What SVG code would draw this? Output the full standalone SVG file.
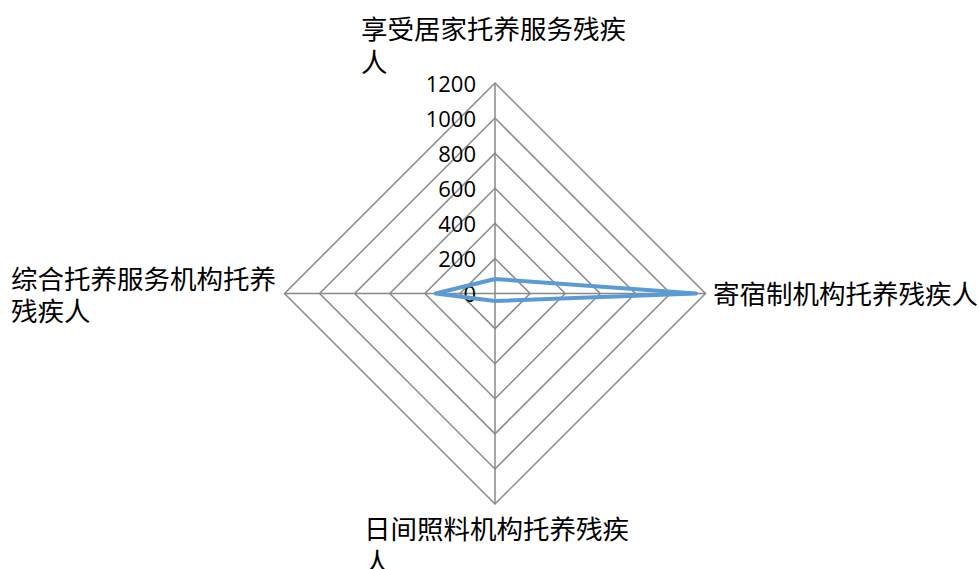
<svg xmlns="http://www.w3.org/2000/svg" width="979" height="569" viewBox="0 0 979 569">
<style>
.grid{fill:none;stroke:#898989;stroke-width:1.5}
.tick{font-family:"Open Sans","Liberation Sans",sans-serif;font-size:22px;fill:#000;text-anchor:end}
.cat{font-family:"Noto Sans CJK SC","Noto Sans CJK JP",sans-serif;font-size:26.5px;fill:#000}
.series{fill:none;stroke:#5B9BD5;stroke-width:4;stroke-linejoin:round}
</style>
<rect width="979" height="569" fill="#fff"/>
<g id="grid">
<polygon class="grid" points="495,258.42 530.08,293.5 495,328.58 459.92,293.5"/>
<polygon class="grid" points="495,223.33 565.17,293.5 495,363.67 424.83,293.5"/>
<polygon class="grid" points="495,188.25 600.25,293.5 495,398.75 389.75,293.5"/>
<polygon class="grid" points="495,153.17 635.33,293.5 495,433.83 354.67,293.5"/>
<polygon class="grid" points="495,118.08 670.42,293.5 495,468.92 319.58,293.5"/>
<polygon class="grid" points="495,83 705.5,293.5 495,504 284.5,293.5"/>
<line class="grid" x1="495" y1="83" x2="495" y2="504"/>
<line class="grid" x1="284.5" y1="293.5" x2="705.5" y2="293.5"/>
</g>
<g id="ticks">
<text class="tick" x="476" y="301.5">0</text>
<text class="tick" x="476" y="266.5">200</text>
<text class="tick" x="476" y="231.5">400</text>
<text class="tick" x="476" y="196.5">600</text>
<text class="tick" x="476" y="161.5">800</text>
<text class="tick" x="476" y="126.5">1000</text>
<text class="tick" x="476" y="91.5">1200</text>
</g>
<g id="connectors">
<polygon id="series1" class="series" points="495,279 696,293.5 495,301 435.7,293.5"/>
</g>
<g id="node-top">
<text class="cat" x="361" y="39">享受居家托养服务残疾</text>
<text class="cat" x="361" y="72">人</text>
</g>
<g id="node-right">
<text class="cat" x="713" y="304">寄宿制机构托养残疾人</text>
</g>
<g id="node-bottom">
<text class="cat" x="364" y="539">日间照料机构托养残疾</text>
<text class="cat" x="364" y="572">人</text>
</g>
<g id="node-left">
<text class="cat" x="11" y="289">综合托养服务机构托养</text>
<text class="cat" x="11" y="321">残疾人</text>
</g>
</svg>
